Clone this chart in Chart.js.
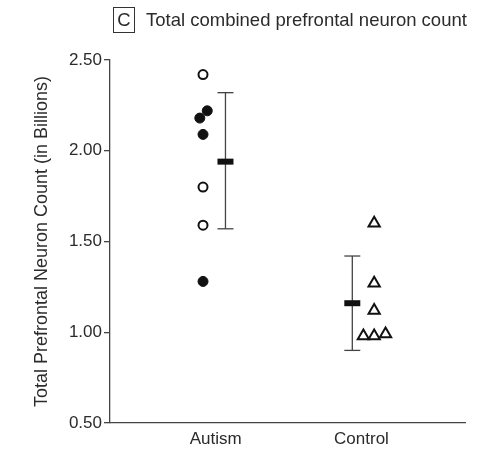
<!DOCTYPE html>
<html>
<head>
<meta charset="utf-8">
<script src="https://cdn.jsdelivr.net/npm/chart.js@4/dist/chart.umd.min.js"></script>
<style>
  html, body { margin: 0; padding: 0; background: #fff; }
  #wrap { width: 479px; height: 450px; }
</style>
</head>
<body>
<div id="wrap"><canvas id="chart" width="479" height="450"></canvas></div>
<script>
// Group labels and measured values (billions of neurons)
const groups = ['Autism', 'Control'];
const autismOpen = [2.42, 1.80, 1.59];
const autismFilled = [2.22, 2.18, 2.09, 1.28];
const controlValues = [1.60, 1.27, 1.12, 0.98, 0.98, 0.99];
const groupMeans = [1.94, 1.16];
const errorLow = [1.57, 0.90];
const errorHigh = [2.32, 1.42];
const yTicks = [0.50, 1.00, 1.50, 2.00, 2.50];

// Horizontal offsets from each group's centre (jitter for overlapping points)
const autismOpenDx = [-0.087, -0.087, -0.087];
const autismFilledDx = [-0.058, -0.109, -0.087, -0.087];
const controlDx = [0.087, 0.087, 0.087, 0.013, 0.087, 0.165];
const summaryDx = [0.067, -0.063];

const FONT = '"Liberation Sans", Arial, Helvetica, sans-serif';
const INK = '#111';
const TEXT = '#2b2b2b';
const AXIS = '#444';

Chart.defaults.font.family = FONT;

const pos = (g, dx) => g + 1 + dx;

const points = (g, values, dxs) => values.map((v, i) => ({ x: pos(g, dxs[i]), y: v }));

const meanData = groupMeans.map((v, g) => ({ x: pos(g, summaryDx[g]), y: v }));

const errorSet = g => ({
  type: 'scatter',
  showLine: true,
  data: [
    { x: pos(g, summaryDx[g]), y: errorLow[g] },
    { x: pos(g, summaryDx[g]), y: errorHigh[g] }
  ],
  borderColor: AXIS,
  borderWidth: 1.3,
  pointStyle: 'line',
  pointRadius: 8,
  pointBorderWidth: 1.3,
  pointBorderColor: AXIS,
  order: 5
});

// Boxed panel letter and heading
const panelTitle = {
  id: 'panelTitle',
  afterDraw(chart) {
    const ctx = chart.ctx;
    ctx.save();
    ctx.strokeStyle = '#333';
    ctx.lineWidth = 1;
    ctx.strokeRect(113.5, 7.5, 21, 25);
    ctx.fillStyle = TEXT;
    ctx.font = '18.5px ' + FONT;
    ctx.textBaseline = 'middle';
    ctx.textAlign = 'center';
    ctx.fillText('C', 124, 20.5);
    ctx.textAlign = 'left';
    ctx.fillText('Total combined prefrontal neuron count', 146, 20.5);
    ctx.restore();
  }
};

new Chart(document.getElementById('chart'), {
  type: 'scatter',
  data: {
    datasets: [
      {
        data: meanData,
        pointStyle: 'line',
        pointRadius: 8,
        pointBorderWidth: 6,
        pointBorderColor: INK,
        order: 0
      },
      {
        data: points(0, autismOpen, autismOpenDx),
        pointStyle: 'circle',
        pointRadius: 4.5,
        pointBackgroundColor: '#fff',
        pointBorderColor: INK,
        pointBorderWidth: 2,
        order: 1
      },
      {
        data: points(0, autismFilled, autismFilledDx),
        pointStyle: 'circle',
        pointRadius: 5,
        pointBackgroundColor: INK,
        pointBorderColor: INK,
        pointBorderWidth: 1,
        order: 1
      },
      {
        data: points(1, controlValues, controlDx),
        pointStyle: 'triangle',
        pointRadius: 6.5,
        pointBackgroundColor: '#fff',
        pointBorderColor: INK,
        pointBorderWidth: 2,
        order: 1
      },
      errorSet(0),
      errorSet(1)
    ]
  },
  options: {
    responsive: false,
    devicePixelRatio: 1,
    animation: false,
    layout: { padding: { top: 60, right: 6, left: 0, bottom: 0 } },
    plugins: {
      legend: { display: false },
      tooltip: { enabled: false },
      title: { display: false }
    },
    scales: {
      x: {
        type: 'linear',
        min: 0.275,
        max: 2.71,
        afterBuildTicks: s => { s.ticks = groups.map((g, i) => ({ value: i + 1 })); },
        afterFit: s => { s.height = 27; },
        grid: { display: false, drawTicks: false, tickLength: 0 },
        border: { display: true, color: AXIS, width: 1.3 },
        ticks: {
          color: TEXT,
          font: { size: 17 },
          padding: 6,
          autoSkip: false,
          maxRotation: 0,
          callback: v => groups[Math.round(v) - 1]
        }
      },
      y: {
        type: 'linear',
        min: 0.5,
        max: 2.5,
        afterBuildTicks: s => { s.ticks = yTicks.map(v => ({ value: v })); },
        afterFit: s => { s.width = 110; },
        grid: {
          drawOnChartArea: false,
          drawTicks: true,
          tickLength: 6,
          color: AXIS,
          lineWidth: 1.3
        },
        border: { display: true, color: AXIS, width: 1.3 },
        ticks: {
          color: TEXT,
          font: { size: 17 },
          padding: 2,
          callback: v => Number(v).toFixed(2)
        },
        title: {
          display: true,
          text: 'Total Prefrontal Neuron Count (in Billions)',
          color: TEXT,
          font: { size: 18 },
          padding: { top: 31, bottom: 0 }
        }
      }
    }
  },
  plugins: [panelTitle]
});
</script>
</body>
</html>
